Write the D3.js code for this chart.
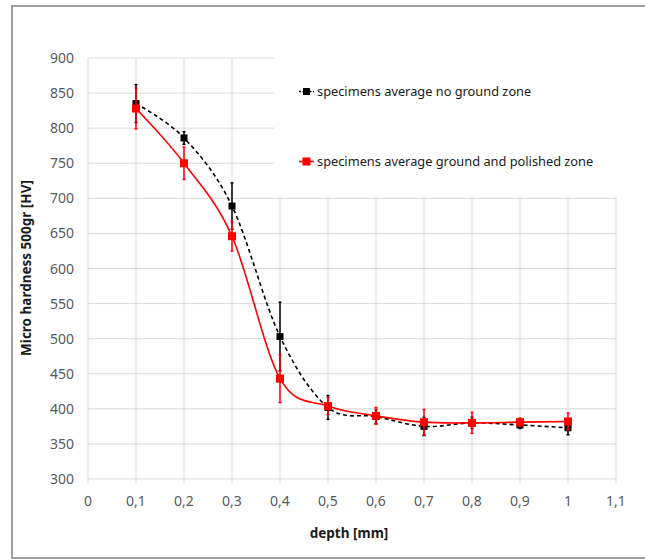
<!DOCTYPE html>
<html lang="en">
<head>
<meta charset="UTF-8">
<title>Micro hardness</title>
<style>
    body { margin: 0; background: #fff; }
    text { font-family: "Noto Sans", "Open Sans", sans-serif; }
</style>
</head>
<body>
<script src="https://d3js.org/d3.v7.min.js"></script>
<script>

    // data
    let depth = [0.1, 0.2, 0.3, 0.4, 0.5, 0.6, 0.7, 0.8, 0.9, 1.0];
    let noGround = [835, 786, 689, 503, 402, 389, 375, 380, 377, 373];
    let noGroundErr = [27, 9, 33, 49, 17, 10, 13, 8, 5, 10];
    let polished = [828, 750, 646, 443, 404, 390, 381, 380, 381, 382];
    let polishedErr = [29, 23, 21, 34, 12, 12, 18, 15, 6, 12];
    let xTicks = [0, 0.1, 0.2, 0.3, 0.4, 0.5, 0.6, 0.7, 0.8, 0.9, 1, 1.1];
    let yTicks = [300, 350, 400, 450, 500, 550, 600, 650, 700, 750, 800, 850, 900];
    let seriesNames = ["specimens average no ground zone", "specimens average ground and polished zone"];

    let w = 645, h = 560;
    let plot = {left: 88, right: 616, top: 58, bottom: 479};

    let svg = d3.select("body")
        .append("svg")
        .attr("width", w)
        .attr("height", h);

    // outer frame of the chart area
    svg.append("rect")
        .attr("x", 12).attr("y", 6)
        .attr("width", w + 10).attr("height", 552)
        .attr("fill", "white")
        .attr("stroke", "#a0a0a0")
        .attr("stroke-width", 2);

    let xScale = d3.scaleLinear().domain([0, 1.1]).range([plot.left, plot.right]);
    let yScale = d3.scaleLinear().domain([300, 900]).range([plot.bottom, plot.top]);

    // grid
    svg.append("g")
        .selectAll("line")
        .data(yTicks)
        .enter()
        .append("line")
        .attr("x1", plot.left).attr("x2", plot.right)
        .attr("y1", d => yScale(d)).attr("y2", d => yScale(d))
        .attr("stroke", "#d9d9d9").attr("stroke-width", 1);

    svg.append("g")
        .selectAll("line")
        .data(xTicks)
        .enter()
        .append("line")
        .attr("x1", d => xScale(d)).attr("x2", d => xScale(d))
        .attr("y1", plot.top).attr("y2", plot.bottom + 4)
        .attr("stroke", "#d9d9d9").attr("stroke-width", 1);

    // tick labels
    let fmt = d => String(d).replace(".", ",");
    svg.append("g")
        .selectAll("text")
        .data(yTicks)
        .enter()
        .append("text")
        .attr("x", 74)
        .attr("y", d => yScale(d) + 5)
        .attr("text-anchor", "end")
        .style("font-size", "14px")
        .style("fill", "#595959")
        .text(d => d);

    svg.append("g")
        .selectAll("text")
        .data(xTicks)
        .enter()
        .append("text")
        .attr("x", d => xScale(d))
        .attr("y", 506)
        .attr("text-anchor", "middle")
        .style("font-size", "14px")
        .style("fill", "#595959")
        .text(fmt);

    // axis titles
    svg.append("text")
        .attr("x", 349).attr("y", 538)
        .attr("text-anchor", "middle")
        .style("font-size", "13.5px")
        .style("font-weight", "bold")
        .style("fill", "#1a1a1a")
        .text("depth [mm]");

    svg.append("text")
        .attr("transform", "translate(31,268) rotate(-90)")
        .attr("text-anchor", "middle")
        .style("font-size", "13.5px")
        .style("font-weight", "bold")
        .style("fill", "#1a1a1a")
        .text("Micro hardness 500gr [HV]");

    // legend box hides the grid behind it
    svg.append("rect")
        .attr("x", 274).attr("y", 50)
        .attr("width", 350).attr("height", 147)
        .attr("fill", "white");

    let line = d3.line()
        .x((d, i) => xScale(depth[i]))
        .y(d => yScale(d))
        .curve(d3.curveCardinal.tension(0));

    function drawSeries(vals, errs, color, dash, size) {
        let g = svg.append("g");
        g.append("path")
            .attr("d", line(vals))
            .attr("fill", "none")
            .attr("stroke", color)
            .attr("stroke-width", 1.6)
            .attr("stroke-dasharray", dash);
        vals.forEach(function (v, i) {
            let x = xScale(depth[i]);
            g.append("line")
                .attr("x1", x).attr("x2", x)
                .attr("y1", yScale(v - errs[i])).attr("y2", yScale(v + errs[i]))
                .attr("stroke", color).attr("stroke-width", 1.5);
            [v - errs[i], v + errs[i]].forEach(function (e) {
                g.append("line")
                    .attr("x1", x - 1.5).attr("x2", x + 1.5)
                    .attr("y1", yScale(e)).attr("y2", yScale(e))
                    .attr("stroke", color).attr("stroke-width", 1.5);
            });
        });
        g.selectAll("rect")
            .data(vals)
            .enter()
            .append("rect")
            .attr("x", (d, i) => xScale(depth[i]) - size / 2)
            .attr("y", d => yScale(d) - size / 2)
            .attr("width", size).attr("height", size)
            .attr("fill", color);
    }

    drawSeries(noGround, noGroundErr, "#000000", "4,3", 7);
    drawSeries(polished, polishedErr, "#ff0000", null, 8);

    // legend
    function legendItem(y, color, dash, size, label) {
        svg.append("line")
            .attr("x1", 299).attr("x2", 314)
            .attr("y1", y).attr("y2", y)
            .attr("stroke", color).attr("stroke-width", 1.6)
            .attr("stroke-dasharray", dash);
        svg.append("rect")
            .attr("x", 306.5 - size / 2).attr("y", y - size / 2)
            .attr("width", size).attr("height", size)
            .attr("fill", color);
        svg.append("text")
            .attr("x", 317).attr("y", y + 4.5)
            .style("font-size", "12.8px")
            .style("fill", "#1a1a1a")
            .text(label);
    }

    legendItem(91.5, "#000000", "2,1.5", 7, seriesNames[0]);
    legendItem(161.5, "#ff0000", null, 8, seriesNames[1]);

</script>
</body>
</html>
